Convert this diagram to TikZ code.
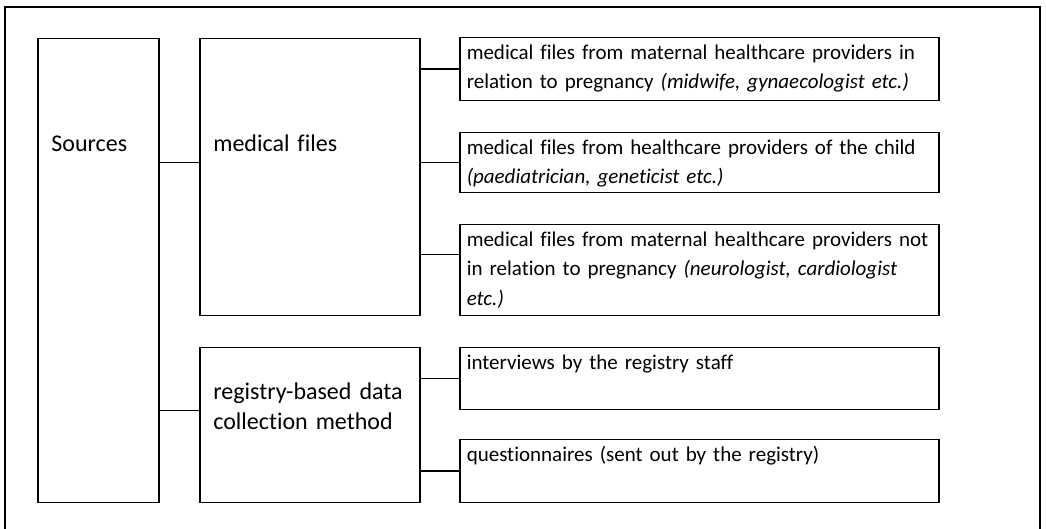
\documentclass[tikz,border=0pt]{standalone}
\usepackage{fontspec}
\setmainfont{Carlito}[Ligatures=NoCommon]
\usepackage{tikz}

\tikzset{
  cell/.style={draw, line width=0.75pt, anchor=north west, align=left,
    inner xsep=6.8pt, inner ysep=0pt, font=\fontsize{12pt}{15pt}\selectfont},
  leaf/.style={cell, inner xsep=3.5pt, text width=232.5pt, text height=10.8pt,
    font=\fontsize{10.5pt}{14.75pt}\selectfont},
  link/.style={line width=0.75pt},
}

\begin{document}
\begin{tikzpicture}[x=1pt, y=-1pt]
\useasboundingbox (0,0) rectangle (523,264.5);

% outer frame, open at the bottom
\draw[line width=0.75pt] (2.5,264.5) -- (2.5,3.5) -- (520,3.5) -- (520,264.5);

% first two columns
\node[cell, text width=46.9pt, text height=56.5pt, text depth=175.5pt] (src) at (18.5,19) {Sources};
\node[cell, text width=96.4pt, text height=56.5pt, text depth=82pt] (fil) at (99.5,19) {medical files};
\node[cell, text width=96.4pt, text height=26pt, text depth=51.5pt] (reg) at (99.5,173.5) {
    registry-based data \\
    collection method
};

% right column
\node[leaf, text depth=20.7pt] (mat) at (229.5,18.5) {
    medical files from maternal healthcare providers in \\
    relation to pregnancy \textit{(midwife, gynaecologist etc.)}
};
\node[leaf, text depth=19.2pt] (kid) at (229.5,66) {
    medical files from healthcare providers of the child \\
    \textit{(paediatrician, geneticist etc.)}
};
\node[leaf, text depth=34.7pt] (oth) at (229.5,112) {
    medical files from maternal healthcare providers not \\
    in relation to pregnancy \textit{(neurologist, cardiologist} \\
    \textit{etc.)}
};
\node[leaf, text depth=20.2pt] (int) at (229.5,173.5) {interviews by the registry staff};
\node[leaf, text depth=20.7pt] (que) at (229.5,219.5) {questionnaires (sent out by the registry)};

% connectors
\coordinate (othc) at ([yshift=7.75pt]oth.west);
\draw[link] (src.east |- kid.west) -- (fil.west |- kid.west);
\draw[link] (src.east |- int.south) -- (reg.west |- int.south);
\draw[link] (fil.east |- mat.west) -- (mat.west);
\draw[link] (fil.east |- kid.west) -- (kid.west);
\draw[link] (fil.east |- othc) -- (othc);
\draw[link] (reg.east |- int.west) -- (int.west);
\draw[link] (reg.east |- que.west) -- (que.west);
\end{tikzpicture}
\end{document}
